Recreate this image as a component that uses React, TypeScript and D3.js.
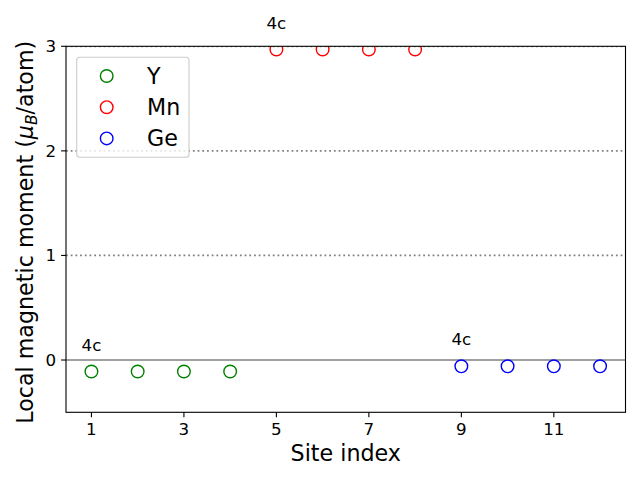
import React from "react";
import * as d3 from "d3";

const siteY = [1, 2, 3, 4];
const momY = [-0.11, -0.11, -0.11, -0.11];
const siteMn = [5, 6, 7, 8];
const momMn = [2.97, 2.97, 2.97, 2.97];
const siteGe = [9, 10, 11, 12];
const momGe = [-0.06, -0.06, -0.06, -0.06];
const xTicks = [1, 3, 5, 7, 9, 11];
const yTicks = [0, 1, 2, 3];
const dottedLevels = [1, 2, 3];
const wyckoffLabels = [
  { site: 1, mom: -0.11, text: "4c" },
  { site: 5, mom: 2.97, text: "4c" },
  { site: 9, mom: -0.06, text: "4c" },
];
const seriesNames = ["Y", "Mn", "Ge"];
const seriesColors = ["#008000", "#ff0000", "#0000ff"];

const W = 640;
const H = 480;
const L = 66;
const R = 625.5;
const T = 46.3;
const B = 412.3;
const FONT = "'DejaVu Sans', sans-serif";

export default function App() {
  const x = d3.scaleLinear().domain([0.45, 12.55]).range([L, R]);
  const y = d3.scaleLinear().domain([-0.5, 3]).range([B, T]);
  const series = [
    { xs: siteY, ys: momY },
    { xs: siteMn, ys: momMn },
    { xs: siteGe, ys: momGe },
  ];
  return (
    <svg
      width={W}
      height={H}
      style={{ position: "fixed", left: 0, top: 0, background: "#fff" }}
      fontFamily={FONT}
    >
      <rect x={0} y={0} width={W} height={H} fill="#fff" />
      <defs>
        <clipPath id="plotclip">
          <rect x={L} y={T} width={R - L} height={B - T} />
        </clipPath>
      </defs>
      <g clipPath="url(#plotclip)">
        {dottedLevels.map((v) => (
          <line
            key={v}
            x1={L}
            x2={R}
            y1={y(v)}
            y2={y(v)}
            stroke="#808080"
            strokeWidth={1.8}
            strokeDasharray="1.8,2.9"
          />
        ))}
        <line x1={L} x2={R} y1={y(0)} y2={y(0)} stroke="#808080" strokeWidth={1.7} />
        {series.map((s, i) =>
          s.xs.map((sx, j) => (
            <circle
              key={`${i}-${j}`}
              cx={x(sx)}
              cy={y(s.ys[j])}
              r={6.3}
              fill="none"
              stroke={seriesColors[i]}
              strokeWidth={1.4}
            />
          ))
        )}
      </g>
      {wyckoffLabels.map((w, i) => (
        <text
          key={i}
          x={x(w.site)}
          y={y(w.mom + 0.2)}
          textAnchor="middle"
          fontSize={16.7}
          fill="#000"
        >
          {w.text}
        </text>
      ))}
      <rect x={L} y={T} width={R - L} height={B - T} fill="none" stroke="#000" strokeWidth={1.1} />
      {xTicks.map((t) => (
        <g key={t}>
          <line x1={x(t)} x2={x(t)} y1={B} y2={B + 4.9} stroke="#000" strokeWidth={1.1} />
          <text x={x(t)} y={B + 22.7} textAnchor="middle" fontSize={16.7} fill="#000">
            {t}
          </text>
        </g>
      ))}
      {yTicks.map((t) => (
        <g key={t}>
          <line x1={L - 4.9} x2={L} y1={y(t)} y2={y(t)} stroke="#000" strokeWidth={1.1} />
          <text x={L - 9.8} y={y(t) + 6} textAnchor="end" fontSize={16.7} fill="#000">
            {t}
          </text>
        </g>
      ))}
      <text x={(L + R) / 2} y={461} textAnchor="middle" fontSize={22.2} fill="#000">
        Site index
      </text>
      <text
        transform={`translate(${33},${(T + B) / 2 + 3}) rotate(-90)`}
        textAnchor="middle"
        fontSize={22.2}
        fill="#000"
      >
        Local magnetic moment (
        <tspan fontStyle="italic">μ</tspan>
        <tspan fontStyle="italic" fontSize={15.5} dy={4}>B</tspan>
        <tspan dy={-4}>/atom)</tspan>
      </text>
      <g>
        <rect
          x={76.7}
          y={57.3}
          width={112.3}
          height={100}
          rx={3}
          fill="#fff"
          fillOpacity={0.8}
          stroke="#cccccc"
          strokeWidth={1.1}
        />
        {seriesNames.map((n, i) => (
          <g key={n}>
            <circle
              cx={106.7}
              cy={76 + i * 31.2}
              r={6.3}
              fill="none"
              stroke={seriesColors[i]}
              strokeWidth={1.4}
            />
            <text x={147} y={76 + i * 31.2 + 8} fontSize={22.2} fill="#000">
              {n}
            </text>
          </g>
        ))}
      </g>
    </svg>
  );
}
